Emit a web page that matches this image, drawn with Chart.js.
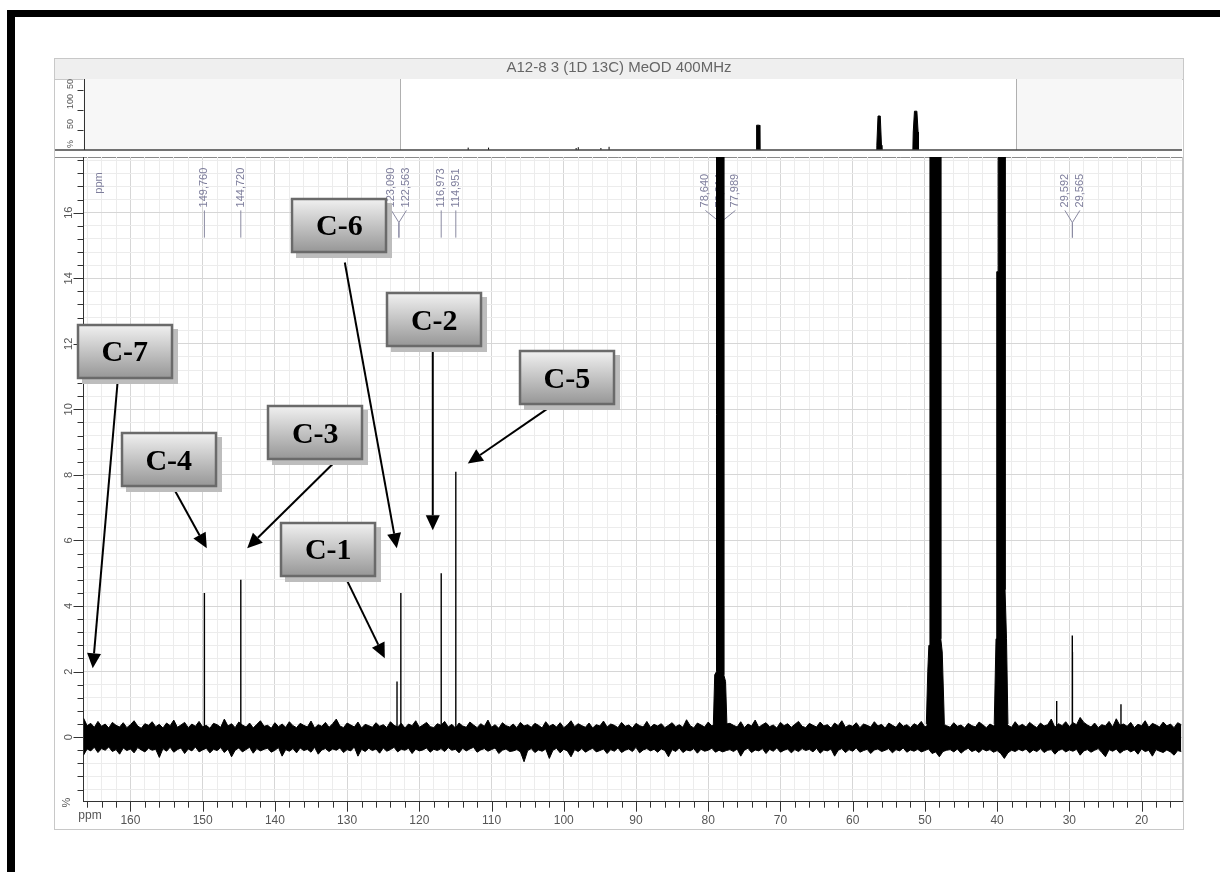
<!DOCTYPE html>
<html>
<head>
<meta charset="utf-8">
<title>A12-8 3 (1D 13C) MeOD 400MHz</title>
<script src="https://cdn.jsdelivr.net/npm/chart.js"></script>
<style>
  html, body { margin: 0; padding: 0; background: #fff; }
  #wrap { position: relative; width: 1220px; height: 872px; }
  #wrap canvas { position: absolute; left: 0; top: 0; }
</style>
</head>
<body>
<div id="wrap">
  <canvas id="spectrum" width="1220" height="872"></canvas>
  <canvas id="overview" width="1220" height="160"></canvas>
</div>
<script>
(function () {
  "use strict";

  /* ===== Data ===== */
  var TITLE = "A12-8 3 (1D 13C) MeOD 400MHz";
  var VIEW_LEFT = 166.5;   // ppm at the left edge of the main plot
  var VIEW_RIGHT = 14.4;   // ppm at the right edge
  var Y_MIN = -1.97;
  var Y_MAX = 17.7;

  var xLabelValues = [160, 150, 140, 130, 120, 110, 100, 90, 80, 70, 60, 50, 40, 30, 20];
  var yLabelValues = [0, 2, 4, 6, 8, 10, 12, 14, 16];

  // baseline noise envelope, sampled every 0.5 ppm from 166.5 down to 14.5
  var NOISE_START = 166.5;
  var NOISE_STEP = 0.5;
  var noiseHi = [
    0.58,0.35,0.42,0.30,0.48,0.33,0.40,0.28,0.45,0.36,0.31,0.44,0.29,0.38,0.50,0.34,0.27,0.41,0.36,0.47,
    0.32,0.39,0.28,0.43,0.35,0.52,0.30,0.37,0.45,0.29,0.40,0.33,0.48,0.31,0.36,0.27,0.42,0.38,0.30,0.55,
    0.34,0.41,0.29,0.46,0.37,0.31,0.43,0.28,0.39,0.50,0.33,0.36,0.27,0.44,0.32,0.40,0.30,0.47,0.35,0.29,
    0.42,0.36,0.31,0.49,0.28,0.38,0.33,0.45,0.30,0.41,0.55,0.34,0.29,0.43,0.37,0.31,0.46,0.28,0.39,0.35,
    0.30,0.44,0.33,0.38,0.29,0.47,0.36,0.31,0.42,0.28,0.40,0.35,0.50,0.30,0.37,0.45,0.32,0.29,0.41,0.36,
    0.48,0.31,0.39,0.28,0.43,0.34,0.30,0.46,0.37,0.29,0.41,0.33,0.52,0.30,0.38,0.27,0.44,0.35,0.31,0.40,
    0.29,0.45,0.34,0.38,0.30,0.42,0.36,0.28,0.47,0.33,0.39,0.31,0.44,0.29,0.37,0.50,0.32,0.41,0.35,0.30,
    0.43,0.28,0.38,0.34,0.49,0.31,0.40,0.36,0.29,0.45,0.33,0.37,0.28,0.42,0.35,0.31,0.48,0.30,0.39,0.34,
    0.41,0.29,0.36,0.44,0.32,0.38,0.30,0.53,0.35,0.28,0.43,0.37,0.31,0.46,0.34,0.40,0.45,0.50,0.40,0.42,
    0.36,0.31,0.47,0.29,0.40,0.34,0.52,0.30,0.38,0.44,0.32,0.37,0.28,0.45,0.35,0.41,0.30,0.39,0.48,0.33,
    0.29,0.42,0.36,0.31,0.46,0.34,0.38,0.28,0.43,0.35,0.50,0.30,0.37,0.33,0.44,0.29,0.40,0.36,0.31,0.47,
    0.34,0.39,0.28,0.43,0.36,0.30,0.45,0.33,0.38,0.29,0.41,0.35,0.48,0.31,0.37,0.42,0.50,0.45,0.40,0.35,
    0.30,0.44,0.33,0.37,0.28,0.42,0.35,0.31,0.46,0.38,0.29,0.40,0.34,0.45,0.50,0.42,0.36,0.30,0.47,0.33,
    0.39,0.31,0.45,0.36,0.29,0.43,0.34,0.38,0.55,0.30,0.41,0.35,0.47,0.32,0.44,0.38,0.60,0.45,0.37,0.31,
    0.43,0.29,0.38,0.34,0.48,0.31,0.56,0.36,0.40,0.33,0.45,0.29,0.39,0.35,0.50,0.30,0.42,0.37,0.31,0.46,
    0.34,0.40,0.29,0.44,0.38
  ];
  var noiseLo = [
    -0.55,-0.36,-0.42,-0.31,-0.47,-0.35,-0.40,-0.30,-0.44,-0.38,-0.52,-0.33,-0.41,-0.36,-0.48,-0.32,-0.39,-0.45,-0.34,-0.40,
    -0.37,-0.62,-0.35,-0.43,-0.31,-0.46,-0.38,-0.33,-0.50,-0.36,-0.42,-0.30,-0.45,-0.39,-0.34,-0.48,-0.37,-0.41,-0.32,-0.47,
    -0.36,-0.60,-0.40,-0.33,-0.45,-0.38,-0.31,-0.49,-0.35,-0.42,-0.37,-0.34,-0.46,-0.40,-0.32,-0.58,-0.38,-0.43,-0.35,-0.48,
    -0.33,-0.41,-0.37,-0.46,-0.31,-0.52,-0.39,-0.35,-0.44,-0.36,-0.40,-0.33,-0.47,-0.38,-0.42,-0.30,-0.58,-0.37,-0.44,-0.34,
    -0.41,-0.36,-0.49,-0.33,-0.43,-0.38,-0.31,-0.45,-0.37,-0.40,-0.34,-0.50,-0.36,-0.42,-0.39,-0.33,-0.46,-0.37,-0.41,-0.35,
    -0.44,-0.32,-0.40,-0.37,-0.48,-0.34,-0.42,-0.36,-0.31,-0.46,-0.39,-0.35,-0.43,-0.38,-0.33,-0.50,-0.40,-0.36,-0.44,-0.42,
    -0.38,-0.45,-0.75,-0.41,-0.35,-0.47,-0.39,-0.43,-0.36,-0.65,-0.40,-0.34,-0.48,-0.37,-0.42,-0.60,-0.38,-0.44,-0.35,-0.46,
    -0.39,-0.34,-0.45,-0.41,-0.36,-0.50,-0.38,-0.43,-0.33,-0.47,-0.40,-0.36,-0.44,-0.31,-0.48,-0.39,-0.35,-0.42,-0.37,-0.46,
    -0.36,-0.41,-0.60,-0.38,-0.44,-0.33,-0.47,-0.39,-0.42,-0.35,-0.49,-0.37,-0.43,-0.40,-0.34,-0.46,-0.40,-0.45,-0.41,-0.38,
    -0.44,-0.36,-0.58,-0.40,-0.34,-0.47,-0.39,-0.42,-0.35,-0.50,-0.37,-0.43,-0.33,-0.46,-0.40,-0.36,-0.48,-0.38,-0.44,-0.35,
    -0.41,-0.37,-0.45,-0.34,-0.49,-0.39,-0.42,-0.36,-0.58,-0.40,-0.35,-0.47,-0.38,-0.43,-0.33,-0.46,-0.41,-0.37,-0.50,-0.39,
    -0.36,-0.44,-0.40,-0.35,-0.48,-0.38,-0.42,-0.33,-0.46,-0.39,-0.43,-0.37,-0.45,-0.41,-0.36,-0.50,-0.45,-0.60,-0.44,-0.40,
    -0.38,-0.45,-0.36,-0.49,-0.40,-0.34,-0.44,-0.39,-0.47,-0.36,-0.42,-0.38,-0.46,-0.41,-0.50,-0.65,-0.48,-0.40,-0.44,-0.37,
    -0.42,-0.36,-0.48,-0.39,-0.44,-0.35,-0.47,-0.40,-0.38,-0.52,-0.41,-0.36,-0.45,-0.39,-0.43,-0.37,-0.55,-0.42,-0.38,-0.46,
    -0.40,-0.35,-0.47,-0.60,-0.38,-0.43,-0.36,-0.49,-0.41,-0.37,-0.45,-0.39,-0.52,-0.36,-0.44,-0.40,-0.58,-0.38,-0.43,-0.47,
    -0.39,-0.45,-0.55,-0.41,-0.44
  ];

  // sharp lines (ppm, height)
  var peakPpm =    [149.76, 144.72, 123.09, 122.56, 116.97, 114.95, 31.75, 29.59, 29.57, 22.85];
  var peakHeight = [4.4,    4.8,    1.7,    4.4,    5.0,    8.1,    1.1,   3.1,   2.6,   1.0];

  // off-scale solvent multiplets, outline (ppm, height)
  var cdPpm =   [79.3, 79.1, 78.85, 78.85, 77.85, 77.85, 77.6, 77.4];
  var cdVal =   [0.3,  1.9,  2.0,   17.7,  17.7,  1.9,   1.7,  0.3];
  var meodPpm = [49.8, 49.6, 49.45, 49.3, 49.3, 47.8, 47.8, 47.6, 47.3];
  var meodVal = [0.4,  2.0,  2.8,   2.8,  17.7, 17.7, 3.0,  2.6,  0.4];
  var dmsoPpm = [40.4, 40.15, 40.05, 40.05, 39.85, 39.85, 38.9, 38.9, 38.7, 38.5];
  var dmsoVal = [0.4,  3.0,   3.0,   14.2,  14.2,  17.7,  17.7, 4.5,  3.0,  0.4];

  // peak picking labels
  var pkLabelPpm =   [149.760, 144.720, 123.090, 122.563, 116.973, 114.951, 78.640, 78.314, 77.989, 29.592, 29.565];
  var pkLabelText =  ["149,760", "144,720", "123,090", "122,563", "116,973", "114,951", "78,640", "78,314", "77,989", "29,592", "29,565"];
  var pkLabelGroup = [0, 1, 2, 2, 3, 4, 5, 5, 5, 6, 6];

  // assignment call-outs: box centre, arrow start, arrow tip (ppm, height)
  var annoText =    ["C-7", "C-6", "C-2", "C-5", "C-4", "C-3", "C-1"];
  var annoBoxPpm =  [160.79, 131.08, 117.93, 99.58, 154.70, 134.41, 132.61];
  var annoBoxVal =  [11.78, 15.61, 12.73, 10.96, 8.46, 9.28, 5.72];
  var annoFromPpm = [161.76, 130.32, 118.14, 102.2, 153.87, 131.93, 130.04];
  var annoFromVal = [10.88, 14.48, 11.80, 10.03, 7.53, 8.35, 4.79];
  var annoToPpm =   [165.22, 123.12, 118.14, 113.29, 149.43, 143.84, 124.78];
  var annoToVal =   [2.10, 5.76, 6.31, 8.35, 5.76, 5.76, 2.41];

  // overview strip (full spectrum, % of tallest)
  var OV_LEFT = 244.8;
  var OV_RIGHT = -26.6;
  var ovPeakPpm =    [149.76, 144.72, 123.09, 122.56, 116.97, 114.95];
  var ovPeakHeight = [6, 6, 5, 7, 5, 8];
  var ovCdPpm =   [78.6, 78.5, 77.8, 77.7];
  var ovCdVal =   [0, 62, 62, 0];
  var ovMeodPpm = [48.9, 48.8, 48.5, 47.95, 47.65, 47.55];
  var ovMeodVal = [0, 12, 85, 85, 12, 0];
  var ovDmsoPpm = [39.9, 39.8, 39.5, 38.9, 38.6, 38.5];
  var ovDmsoVal = [0, 45, 97, 97, 45, 0];
  var ovTickValues = [0, 50, 100, 150];
  var ovTickLabels = ["%", "50", "100", "50"];

  /* ===== Style ===== */
  var FONT = "Liberation Sans";
  var AXIS_TEXT = "#555";
  var LABEL_TEXT = "#7e7e9c";
  var GRID_MAJOR = "#d6d6d6";
  var GRID_MINOR = "#ececec";

  function pts(xs, ys) {
    return xs.map(function (x, i) { return { x: x, y: ys[i] }; });
  }
  function sticks(ppm, h) {
    var out = [];
    ppm.forEach(function (p, i) {
      out.push({ x: p, y: 0 }, { x: p, y: h[i] }, { x: p, y: null });
    });
    return out;
  }
  function isMajor(v, step) {
    return Math.abs(v / step - Math.round(v / step)) < 1e-6;
  }

  var noiseX = noiseHi.map(function (_, i) { return NOISE_START - i * NOISE_STEP; });

  var xTickValues = [];
  for (var t = 16; t <= 166; t += 2) xTickValues.push(t);
  var yTickValues = [];
  for (var k = -4; k <= 44; k++) yTickValues.push(Math.round(k * 4) / 10);

  function solid(data) {
    return {
      data: data, borderColor: "#000", borderWidth: 1, backgroundColor: "#000",
      fill: "origin", pointRadius: 0, tension: 0, clip: 0
    };
  }

  /* ===== Frame, title, labels, call-outs ===== */
  var framePlugin = {
    id: "frame",
    beforeDraw: function (chart) {
      var ctx = chart.ctx, ca = chart.chartArea;
      ctx.save();
      ctx.fillStyle = "#fff";
      ctx.fillRect(0, 0, chart.width, chart.height);
      // black border of the figure
      ctx.fillStyle = "#000";
      ctx.fillRect(7, 10, 1213, 7);
      ctx.fillRect(7, 10, 8, 862);
      // panel
      ctx.strokeStyle = "#c8c8c8";
      ctx.lineWidth = 1;
      ctx.strokeRect(54.5, 58.5, 1129, 771);
      ctx.fillStyle = "#efefef";
      ctx.fillRect(55, 59, 1128, 20);
      ctx.beginPath();
      ctx.moveTo(55, 79.5); ctx.lineTo(1183, 79.5);
      ctx.stroke();
      ctx.fillStyle = "#666";
      ctx.font = "15px " + FONT;
      ctx.textAlign = "center";
      ctx.textBaseline = "middle";
      ctx.fillText(TITLE, 619, 68);
      // top and right edge of the plot
      ctx.strokeStyle = "#8a8a8a";
      ctx.beginPath();
      ctx.moveTo(55, ca.top + 0.5); ctx.lineTo(ca.right, ca.top + 0.5);
      ctx.stroke();
      ctx.strokeStyle = "#c8c8c8";
      ctx.beginPath();
      ctx.moveTo(Math.round(ca.right) + 0.5, ca.top); ctx.lineTo(Math.round(ca.right) + 0.5, ca.bottom);
      ctx.stroke();
      ctx.restore();
    },
    beforeDatasetsDraw: function (chart) {
      var ctx = chart.ctx, xs = chart.scales.x, ys = chart.scales.y;
      var yTop = ys.getPixelForValue(16.07);
      var yMid = ys.getPixelForValue(15.70);
      var yBot = ys.getPixelForValue(15.24);
      ctx.save();
      ctx.strokeStyle = "#8a8aa2";
      ctx.fillStyle = LABEL_TEXT;
      ctx.lineWidth = 1;
      ctx.font = "11px " + FONT;
      ctx.textAlign = "left";
      ctx.textBaseline = "middle";
      var groups = [];
      pkLabelGroup.forEach(function (g, i) {
        if (!groups[g]) groups[g] = [];
        groups[g].push(i);
      });
      groups.forEach(function (idx) {
        var stem = 0;
        idx.forEach(function (i) { stem += xs.getPixelForValue(pkLabelPpm[i]); });
        stem = stem / idx.length;
        var n = idx.length;
        idx.forEach(function (i, j) {
          var lx = n === 1 ? stem : stem + (j - (n - 1) / 2) * 15;
          ctx.beginPath();
          if (n === 1) {
            ctx.moveTo(lx, yTop); ctx.lineTo(lx, yBot);
          } else {
            ctx.moveTo(lx, yTop); ctx.lineTo(stem, yMid); ctx.lineTo(stem, yBot);
          }
          ctx.stroke();
          ctx.save();
          ctx.translate(lx, yTop - 3);
          ctx.rotate(-Math.PI / 2);
          ctx.fillText(pkLabelText[i], 0, 0);
          ctx.restore();
        });
      });
      // "ppm" tag of the label row
      ctx.save();
      ctx.translate(xs.getPixelForValue(164.39), ys.getPixelForValue(16.58));
      ctx.rotate(-Math.PI / 2);
      ctx.fillText("ppm", 0, 0);
      ctx.restore();
      ctx.restore();
    },
    afterDraw: function (chart) {
      var ctx = chart.ctx, ca = chart.chartArea, xs = chart.scales.x, ys = chart.scales.y;
      ctx.save();
      // tick marks
      ctx.strokeStyle = "#333";
      ctx.lineWidth = 1;
      ctx.beginPath();
      xs.ticks.forEach(function (tk) {
        var px = Math.round(xs.getPixelForValue(tk.value)) + 0.5;
        var len = isMajor(tk.value, 10) ? 10 : 6;
        ctx.moveTo(px, ca.bottom); ctx.lineTo(px, ca.bottom + len);
      });
      ys.ticks.forEach(function (tk) {
        var py = Math.round(ys.getPixelForValue(tk.value)) + 0.5;
        var len = isMajor(tk.value, 2) ? 10 : 6;
        ctx.moveTo(ca.left, py); ctx.lineTo(ca.left - len, py);
      });
      ctx.stroke();
      // rotated y labels
      ctx.fillStyle = AXIS_TEXT;
      ctx.font = "11px " + FONT;
      ctx.textAlign = "center";
      ctx.textBaseline = "middle";
      yLabelValues.forEach(function (v) {
        ctx.save();
        ctx.translate(ca.left - 15, ys.getPixelForValue(v));
        ctx.rotate(-Math.PI / 2);
        ctx.fillText(String(v), 0, 0);
        ctx.restore();
      });
      ctx.save();
      ctx.translate(67, ca.bottom + 1);
      ctx.rotate(-Math.PI / 2);
      ctx.fillText("%", 0, 0);
      ctx.restore();
      ctx.font = "12px " + FONT;
      ctx.fillText("ppm", 90, ca.bottom + 14);

      // call-outs
      ctx.strokeStyle = "#000";
      ctx.fillStyle = "#000";
      ctx.lineWidth = 2;
      annoText.forEach(function (txt, i) {
        var x1 = xs.getPixelForValue(annoFromPpm[i]), y1 = ys.getPixelForValue(annoFromVal[i]);
        var x2 = xs.getPixelForValue(annoToPpm[i]), y2 = ys.getPixelForValue(annoToVal[i]);
        var ang = Math.atan2(y2 - y1, x2 - x1), hl = 15, hw = 7;
        var bx = x2 - hl * Math.cos(ang), by = y2 - hl * Math.sin(ang);
        ctx.beginPath();
        ctx.moveTo(x1, y1); ctx.lineTo(bx, by);
        ctx.stroke();
        ctx.beginPath();
        ctx.moveTo(x2, y2);
        ctx.lineTo(bx + hw * Math.sin(ang), by - hw * Math.cos(ang));
        ctx.lineTo(bx - hw * Math.sin(ang), by + hw * Math.cos(ang));
        ctx.closePath();
        ctx.fill();
      });
      annoText.forEach(function (txt, i) {
        var cx = xs.getPixelForValue(annoBoxPpm[i]), cy = ys.getPixelForValue(annoBoxVal[i]);
        var w = 96, h = 55, l = Math.round(cx - w / 2), tp = Math.round(cy - h / 2);
        ctx.fillStyle = "#bdbdbd";
        ctx.fillRect(l + 5, tp + 5, w, h);
        var grad = ctx.createLinearGradient(0, tp, 0, tp + h);
        grad.addColorStop(0, "#f2f2f2");
        grad.addColorStop(1, "#959595");
        ctx.fillStyle = grad;
        ctx.fillRect(l, tp, w, h);
        ctx.strokeStyle = "#6a6a6a";
        ctx.lineWidth = 2.5;
        ctx.strokeRect(l + 1, tp + 1, w - 2, h - 2);
        ctx.fillStyle = "#000";
        ctx.font = "bold 30px 'Liberation Serif'";
        ctx.textAlign = "center";
        ctx.textBaseline = "middle";
        ctx.fillText(txt, cx, cy + 2);
      });
      ctx.restore();
    }
  };

  new Chart(document.getElementById("spectrum"), {
    type: "line",
    data: {
      datasets: [
        {
          data: pts(noiseX, noiseHi), borderColor: "#000", borderWidth: 1,
          backgroundColor: "#000", fill: "+1", pointRadius: 0, tension: 0
        },
        {
          data: pts(noiseX, noiseLo), borderColor: "#000", borderWidth: 1,
          fill: false, pointRadius: 0, tension: 0
        },
        {
          data: sticks(peakPpm, peakHeight), borderColor: "#000", borderWidth: 1.4,
          fill: false, pointRadius: 0, spanGaps: false
        },
        solid(pts(cdPpm, cdVal)),
        solid(pts(meodPpm, meodVal)),
        solid(pts(dmsoPpm, dmsoVal))
      ]
    },
    options: {
      responsive: false,
      animation: false,
      devicePixelRatio: 1,
      layout: { padding: { left: 0, top: 157, right: 38, bottom: 30.3 } },
      plugins: { legend: { display: false }, tooltip: { enabled: false } },
      scales: {
        x: {
          type: "linear",
          reverse: true,
          min: VIEW_RIGHT,
          max: VIEW_LEFT,
          afterBuildTicks: function (s) { s.ticks = xTickValues.map(function (v) { return { value: v }; }); },
          afterFit: function (s) { s.height = 40; },
          grid: {
            drawTicks: false,
            color: function (c) { return c.tick && isMajor(c.tick.value, 10) ? GRID_MAJOR : GRID_MINOR; }
          },
          border: { color: "#333", width: 1 },
          ticks: {
            autoSkip: false, maxRotation: 0, minRotation: 0, padding: 12,
            color: AXIS_TEXT, font: { family: FONT, size: 12 },
            callback: function (v) { return xLabelValues.indexOf(v) >= 0 ? String(v) : ""; }
          }
        },
        y: {
          type: "linear",
          min: Y_MIN,
          max: Y_MAX,
          afterBuildTicks: function (s) { s.ticks = yTickValues.map(function (v) { return { value: v }; }); },
          afterFit: function (s) { s.width = 83.5; },
          grid: {
            drawTicks: false,
            color: function (c) { return c.tick && isMajor(c.tick.value, 2) ? GRID_MAJOR : GRID_MINOR; }
          },
          border: { color: "#333", width: 1 },
          ticks: { display: false }
        }
      }
    },
    plugins: [framePlugin]
  });

  /* ===== Overview strip ===== */
  var overviewPlugin = {
    id: "overviewFrame",
    beforeDraw: function (chart) {
      var ctx = chart.ctx, ca = chart.chartArea, xs = chart.scales.x;
      var x1 = xs.getPixelForValue(VIEW_LEFT), x2 = xs.getPixelForValue(VIEW_RIGHT);
      ctx.save();
      ctx.fillStyle = "#f7f7f7";
      ctx.fillRect(ca.left, ca.top, ca.right - ca.left, ca.bottom - ca.top);
      ctx.fillStyle = "#fff";
      ctx.fillRect(x1, ca.top, x2 - x1, ca.bottom - ca.top);
      ctx.strokeStyle = "#b0b0b0";
      ctx.lineWidth = 1;
      ctx.beginPath();
      ctx.moveTo(Math.round(x1) + 0.5, ca.top); ctx.lineTo(Math.round(x1) + 0.5, ca.bottom);
      ctx.moveTo(Math.round(x2) + 0.5, ca.top); ctx.lineTo(Math.round(x2) + 0.5, ca.bottom);
      ctx.stroke();
      ctx.restore();
    },
    afterDraw: function (chart) {
      var ctx = chart.ctx, ca = chart.chartArea, ys = chart.scales.y;
      ctx.save();
      ctx.strokeStyle = "#444";
      ctx.lineWidth = 1.5;
      ctx.beginPath();
      ctx.moveTo(55, ca.bottom); ctx.lineTo(ca.right, ca.bottom);
      ctx.stroke();
      ctx.lineWidth = 1;
      ctx.strokeStyle = "#333";
      ctx.beginPath();
      ctx.moveTo(Math.round(ca.left) + 0.5, ca.top); ctx.lineTo(Math.round(ca.left) + 0.5, ca.bottom);
      ovTickValues.forEach(function (v) {
        if (v === 0) return;
        var py = Math.round(ys.getPixelForValue(v)) + 0.5;
        ctx.moveTo(ca.left, py); ctx.lineTo(ca.left - 6, py);
      });
      ctx.stroke();
      ctx.fillStyle = AXIS_TEXT;
      ctx.font = "9px " + FONT;
      ctx.textAlign = "left";
      ctx.textBaseline = "middle";
      ovTickValues.forEach(function (v, i) {
        var w = ctx.measureText(ovTickLabels[i]).width;
        var start = Math.min(ys.getPixelForValue(v) - (v === 0 ? 2 : 1), 82 + w);
        if (v !== 150) start = ys.getPixelForValue(v) - (v === 0 ? 2 : 1);
        ctx.save();
        ctx.translate(ca.left - 13, start);
        ctx.rotate(-Math.PI / 2);
        ctx.fillText(ovTickLabels[i], 0, 0);
        ctx.restore();
      });
      ctx.restore();
    }
  };

  function ovSolid(data) {
    return {
      data: data, borderColor: "#000", borderWidth: 1, backgroundColor: "#000",
      fill: "origin", pointRadius: 0, tension: 0
    };
  }

  new Chart(document.getElementById("overview"), {
    type: "line",
    data: {
      datasets: [
        {
          data: sticks(ovPeakPpm, ovPeakHeight), borderColor: "#000", borderWidth: 1,
          fill: false, pointRadius: 0, spanGaps: false
        },
        ovSolid(pts(ovCdPpm, ovCdVal)),
        ovSolid(pts(ovMeodPpm, ovMeodVal)),
        ovSolid(pts(ovDmsoPpm, ovDmsoVal))
      ]
    },
    options: {
      responsive: false,
      animation: false,
      devicePixelRatio: 1,
      layout: { padding: { left: 0, top: 79, right: 38, bottom: 10 } },
      plugins: { legend: { display: false }, tooltip: { enabled: false } },
      scales: {
        x: { type: "linear", reverse: true, min: OV_RIGHT, max: OV_LEFT, display: false },
        y: {
          type: "linear", min: 0, max: 177.5,
          afterFit: function (s) { s.width = 83.5; },
          grid: { display: false, drawTicks: false },
          border: { display: false },
          ticks: { display: false }
        }
      }
    },
    plugins: [overviewPlugin]
  });
})();
</script>
</body>
</html>
